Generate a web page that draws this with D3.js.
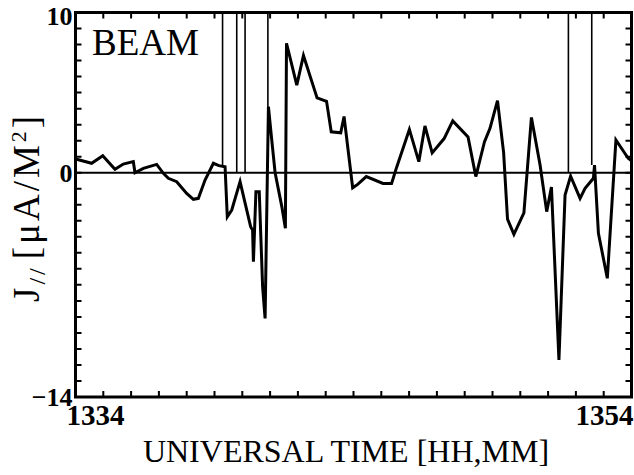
<!DOCTYPE html>
<html>
<head>
<meta charset="utf-8">
<script src="https://cdn.jsdelivr.net/npm/d3@7"></script>
<style>
body { margin: 0; background: #fff; }
svg text { font-family: 'Liberation Serif', 'Times New Roman', serif; fill: #000; }
</style>
</head>
<body>
<svg id="canvas" width="634" height="475"></svg>
<script>
// time in minutes after 13:00 UT, current density in uA/m^2
let times = [34.04, 34.58, 34.98, 35.42, 35.72, 36.08, 36.14, 36.44, 36.92, 37.16,
    37.34, 37.64, 38.00, 38.24, 38.42, 38.66, 38.96, 39.16, 39.38, 39.46,
    39.62, 39.92, 40.16, 40.30, 40.37, 40.40, 40.49, 40.61, 40.73, 40.82,
    40.94, 41.06, 41.18, 41.42, 41.55, 41.59, 41.96, 42.20, 42.69, 43.03,
    43.20, 43.54, 43.66, 43.97, 44.15, 44.46, 45.06, 45.37, 45.55, 46.01,
    46.35, 46.57, 46.83, 47.26, 47.57, 48.12, 48.40, 48.71, 48.91, 49.18,
    49.40, 49.54, 49.77, 50.13, 50.40, 50.71, 50.95, 51.12, 51.39, 51.61,
    51.81, 52.15, 52.33, 52.63, 52.67, 52.81, 53.13, 53.44, 53.88, 54.00]
let current = [0.84, 0.59, 1.06, 0.21, 0.54, 0.69, 0.0, 0.27, 0.52, -0.04,
    -0.35, -0.56, -1.29, -1.66, -1.6, -0.46, 0.59, 0.44, 0.37, -2.75,
    -2.33, -0.56, -2.33, -3.37, -3.58, -5.56, -1.19, -1.19, -7.1, -9.1,
    4.12, 2.04, 0.0, -2.1, -3.47, 8.08, 5.47, 7.32, 4.67, 4.46,
    2.55, 2.49, 3.51, -0.94, -0.73, -0.24, -0.67, -0.67, 0.33, 2.7,
    0.69, 2.92, 1.24, 2.13, 3.23, 2.23, -0.24, 1.92, 2.77, 4.5,
    1.25, -2.9, -3.85, -2.5, 3.45, 0.5, -2.43, -0.9, -11.69, -1.39,
    -0.21, -1.6, -0.97, -0.35, 0.48, -3.78, -6.59, 2.04, 0.9, 0.75]

// off-scale excursions, drawn as thin lines from the top of the plot
let spike_times = [39.29, 39.80, 40.10, 40.92, 51.73, 52.57]
let spike_ends = [0.36, 0, 0, 4.1, 0, 0.48]

let y_labels = [10, 0, -14]
let x_labels = [34, 54]
let minor_x = d3.range(35, 54, 1)
let minor_y = d3.range(-13, 10, 1)

let canvas = d3.select('#canvas')

let x = d3.scaleLinear().domain([34, 54]).range([75.5, 631.5])
let y = d3.scaleLinear().domain([-14, 10]).range([397, 12.5])

canvas.append('clipPath').attr('id', 'plot-clip')
    .append('rect')
    .attr('x', x(34)).attr('y', y(10))
    .attr('width', x(54) - x(34)).attr('height', y(-14) - y(10))

// inward minor ticks on all four sides, one path
let tickLen = 6
let tickPath = d3.path()
minor_x.forEach((d) => {
    tickPath.moveTo(x(d), y(-14)); tickPath.lineTo(x(d), y(-14) - tickLen)
    tickPath.moveTo(x(d), y(10)); tickPath.lineTo(x(d), y(10) + tickLen)
})
minor_y.forEach((d) => {
    tickPath.moveTo(x(34), y(d)); tickPath.lineTo(x(34) + tickLen, y(d))
    tickPath.moveTo(x(54), y(d)); tickPath.lineTo(x(54) - tickLen, y(d))
})
canvas.append('path')
    .attr('d', tickPath.toString())
    .attr('fill', 'none')
    .attr('stroke', '#000')
    .attr('stroke-width', 2)

// zero line
canvas.append('line')
    .attr('x1', x(34)).attr('x2', x(54))
    .attr('y1', y(0)).attr('y2', y(0))
    .attr('stroke', '#000').attr('stroke-width', 2)

// thin vertical lines
canvas.selectAll('.spike')
    .data(spike_times)
    .enter()
    .append('line')
    .attr('class', 'spike')
    .attr('x1', (d) => x(d)).attr('x2', (d) => x(d))
    .attr('y1', y(10))
    .attr('y2', (d, i) => y(spike_ends[i]))
    .attr('stroke', '#000').attr('stroke-width', 1.6)

let line = d3.line()
    .x((d, i) => x(times[i]))
    .y((d) => y(d))

canvas.append('path')
    .datum(current)
    .attr('d', line)
    .attr('clip-path', 'url(#plot-clip)')
    .attr('fill', 'none')
    .attr('stroke', '#000')
    .attr('stroke-width', 3)
    .attr('stroke-linejoin', 'miter')

// frame
canvas.append('rect')
    .attr('x', x(34)).attr('y', y(10))
    .attr('width', x(54) - x(34)).attr('height', y(-14) - y(10))
    .attr('fill', 'none').attr('stroke', '#000').attr('stroke-width', 3)

// y tick labels
canvas.selectAll('.ylab')
    .data(y_labels)
    .enter()
    .append('text')
    .attr('class', 'ylab')
    .attr('x', x(34) - 3)
    .attr('y', (d, i) => i === 0 ? y(d) + 12 : y(d) + 9)
    .attr('text-anchor', 'end')
    .style('font-size', '26px')
    .style('font-weight', 'bold')
    .text((d) => d < 0 ? '\u2212' + Math.abs(d) : d)

// x tick labels: first one starts at the frame, last one ends at it
canvas.selectAll('.xlab')
    .data(x_labels)
    .enter()
    .append('text')
    .attr('class', 'xlab')
    .attr('x', (d, i) => i === 0 ? x(d) - 9 : x(d) + 2)
    .attr('y', y(-14) + 28)
    .attr('text-anchor', (d, i) => i === 0 ? 'start' : 'end')
    .style('font-size', '29px')
    .style('font-weight', 'bold')
    .text((d) => '13' + d)

canvas.append('text')
    .attr('x', 346)
    .attr('y', 462)
    .attr('text-anchor', 'middle')
    .style('font-size', '32px')
    .text('UNIVERSAL TIME [HH,MM]')

canvas.append('text')
    .attr('x', 92)
    .attr('y', 55)
    .style('font-size', '37px')
    .text('BEAM')

let ylab = canvas.append('text')
    .attr('transform', 'translate(39,302) rotate(-90)')
    .style('font-size', '37px')
    .style('letter-spacing', '3px')
ylab.append('tspan').text('J')
ylab.append('tspan').attr('dy', 6).style('font-size', '24px').text('//')
ylab.append('tspan').attr('dy', -6).attr('dx', 6).text('[\u03bcA/M')
ylab.append('tspan').attr('dy', -13).style('font-size', '22px').text('2')
ylab.append('tspan').attr('dy', 13).text(']')
</script>
</body>
</html>
